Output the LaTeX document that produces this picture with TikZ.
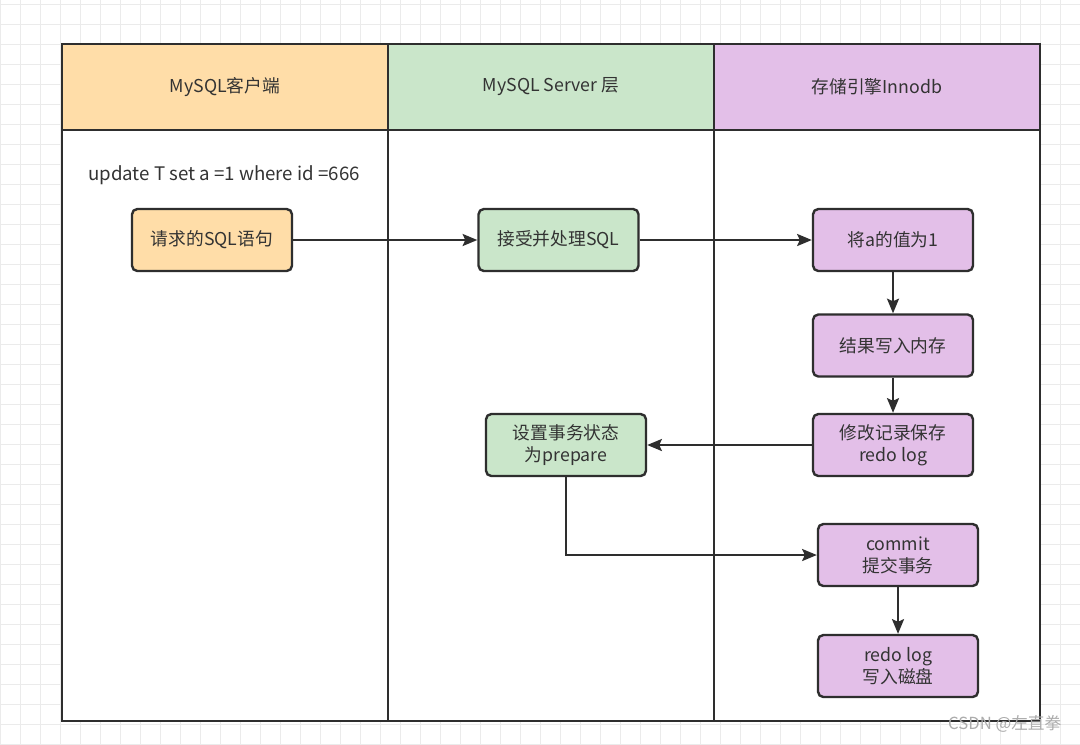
\documentclass[tikz,border=0pt]{standalone}
\usepackage{fontspec}
\setmainfont{Noto Sans CJK SC}
\usetikzlibrary{arrows.meta}
\definecolor{gridc}{HTML}{EBEBEB}
\definecolor{linec}{HTML}{2E2E2E}
\definecolor{txtc}{HTML}{333333}
\definecolor{orangef}{HTML}{FFDDA8}
\definecolor{greenf}{HTML}{CAE6CA}
\definecolor{purplef}{HTML}{E3BFE8}
\tikzset{
  proc/.style={draw=linec, line width=1.8pt, rounded corners=4pt, minimum width=120pt, minimum height=46.5pt, align=center, text=txtc, font=\fontsize{13.3pt}{16.5pt}\selectfont, inner sep=2pt},
  hdr/.style={draw=linec, line width=1.8pt, minimum width=244.5pt, minimum height=64.5pt, text=txtc, font=\fontsize{13.3pt}{16.5pt}\selectfont},
  flow/.style={draw=linec, line width=1.6pt, -{Stealth[length=11pt,width=9pt,inset=2pt]}},
}
\begin{document}
\begin{tikzpicture}[x=0.75pt,y=-0.75pt]
\useasboundingbox (0,0) rectangle (1080,744);
\fill[white] (0,0) rectangle (1080,744);
\foreach \i in {0,20,...,1080} \draw[gridc, line width=0.6pt] (\i,0) -- (\i,744);
\foreach \j in {4,24,...,744} \draw[gridc, line width=0.6pt] (0,\j) -- (1080,\j);
% body
\fill[white] (62,44) rectangle (1040,721);
% headers
\node[hdr, fill=orangef] (h1) at (225,87) {MySQL客户端};
\node[hdr, fill=greenf] (h2) at (551,87) {MySQL Server 层};
\node[hdr, fill=purplef] (h3) at (877,87) {存储引擎Innodb};
\draw[linec, line width=1.8pt] (62,130) rectangle (1040,721);
\draw[linec, line width=1.8pt] (388,130) -- (388,721);
\draw[linec, line width=1.8pt] (714,130) -- (714,721);
% text
\node[text=txtc, font=\fontsize{14pt}{16pt}\selectfont] (sql) at (224,175) {update T set a =1 where id =666};
% boxes
\node[proc, fill=orangef] (req) at (212,240) {请求的SQL语句};
\node[proc, fill=greenf] (acc) at (558.5,240) {接受并处理SQL};
\node[proc, fill=purplef] (seta) at (893,240) {将a的值为1};
\node[proc, fill=purplef] (mem) at (893,345.5) {结果写入内存};
\node[proc, fill=purplef] (redo) at (893,445) {修改记录保存\\redo log};
\node[proc, fill=greenf] (prep) at (566,445) {设置事务状态\\为prepare};
\node[proc, fill=purplef] (commit) at (898,555) {commit\\提交事务};
\node[proc, fill=purplef] (disk) at (898,666) {redo log\\写入磁盘};
% connectors
\draw[flow] (req) -- (acc);
\draw[flow] (acc) -- (seta);
\draw[flow] (seta) -- (mem);
\draw[flow] (mem) -- (redo);
\draw[flow] (redo) -- (prep);
\draw[flow] (prep.south) |- (commit.west);
\draw[flow] (commit) -- (disk);
% watermark
\node[text=gray!65, font=\fontsize{12.5pt}{14pt}\selectfont, anchor=east] (wm) at (1066,724) {CSDN @左直拳};
\end{tikzpicture}
\end{document}
